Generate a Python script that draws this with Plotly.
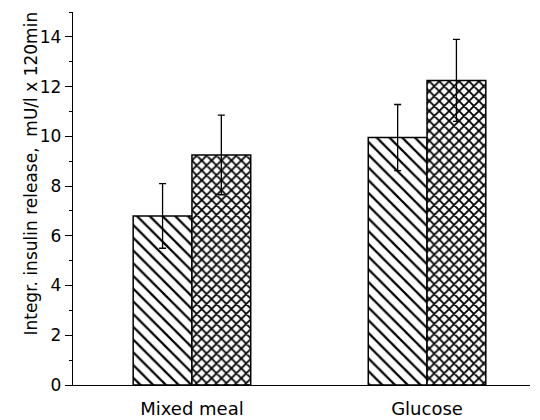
import plotly.graph_objects as go

categories = ["Mixed meal", "Glucose"]
series_a = [6.8, 9.95]
series_a_err = [1.3, 1.33]
series_b = [9.25, 12.25]
series_b_err = [1.6, 1.65]
y_ticks = [0, 2, 4, 6, 8, 10, 12, 14]

fig = go.Figure()
fig.add_trace(go.Bar(
    x=categories, y=series_a,
    error_y=dict(type="data", array=series_a_err, color="black", thickness=1.3, width=3.5),
    marker=dict(color="white", line=dict(color="black", width=1.5),
                pattern=dict(shape="\\", size=9, solidity=0.25, fgcolor="black",
                             bgcolor="white", fgopacity=1)),
    showlegend=False,
))
fig.add_trace(go.Bar(
    x=categories, y=series_b,
    error_y=dict(type="data", array=series_b_err, color="black", thickness=1.3, width=3.5),
    marker=dict(color="white", line=dict(color="black", width=1.5),
                pattern=dict(shape="x", size=7, solidity=0.45, fgcolor="black",
                             bgcolor="white", fgopacity=1)),
    showlegend=False,
))

fig.update_layout(
    width=540, height=420,
    margin=dict(l=73, r=10, t=12, b=35, autoexpand=False),
    paper_bgcolor="white", plot_bgcolor="white",
    barmode="group", bargap=0.5, bargroupgap=0,
    font=dict(family="DejaVu Sans", color="black"),
    xaxis=dict(
        range=[-0.506, 1.438], showline=True, linecolor="black", linewidth=1.3,
        ticks="", showgrid=False, tickfont=dict(size=18), ticklabelstandoff=7,
        automargin=False,
    ),
    yaxis=dict(
        range=[0, 15], showline=True, linecolor="black", linewidth=1.3,
        tickvals=y_ticks, ticks="outside", ticklen=7, tickwidth=1.2, tickcolor="black",
        showgrid=False, zeroline=False, tickfont=dict(size=17), automargin=False,
        minor=dict(dtick=1, tick0=1, ticks="outside", ticklen=3, tickwidth=1, tickcolor="black"),
    ),
    annotations=[dict(
        text="Integr. insulin release,  mU/l x 120min", textangle=-90,
        xref="paper", yref="paper", x=-0.094, y=0.567, xanchor="center", yanchor="middle",
        showarrow=False, font=dict(size=17, family="DejaVu Sans", color="black"),
    )],
)

fig.write_html("out.html", config={"displayModeBar": False},
               post_script="document.body.style.margin='0';document.body.style.padding='0';")
